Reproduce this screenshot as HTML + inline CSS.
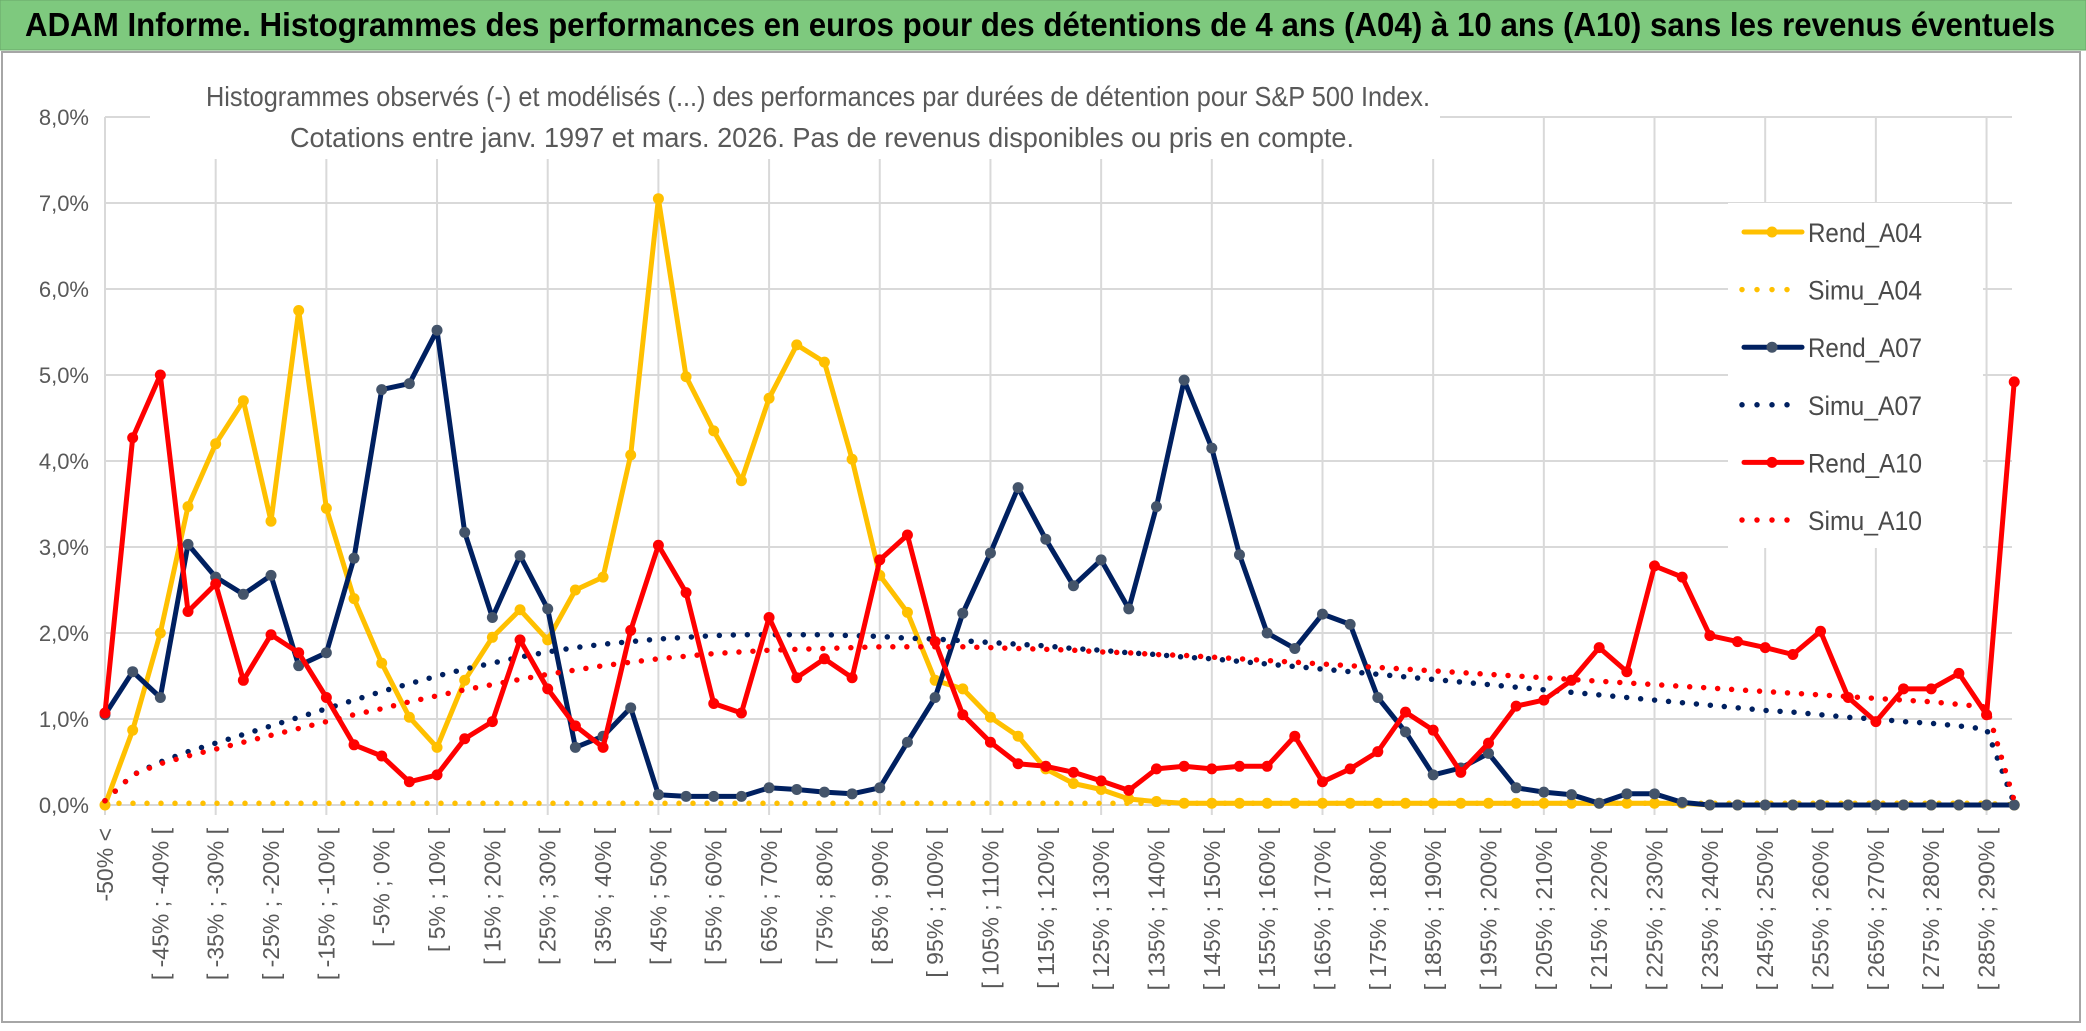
<!DOCTYPE html>
<html><head><meta charset="utf-8"><style>
html,body{margin:0;padding:0;background:#fff;}
svg{display:block;font-family:"Liberation Sans",sans-serif;}
</style></head><body>
<svg id="chart" width="2086" height="1031" viewBox="0 0 2086 1031" xmlns="http://www.w3.org/2000/svg">
<rect x="0" y="0" width="2086" height="1031" fill="#fff"/>
<rect x="2" y="52" width="2078" height="970" fill="#fff" stroke="#a6a6a6" stroke-width="2"/>
<rect x="0" y="0" width="2086" height="50" fill="#7ec97e" stroke="#6aa86a" stroke-width="1"/>
<text x="25" y="36" font-size="33" font-weight="bold" fill="#000" textLength="2030" lengthAdjust="spacingAndGlyphs">ADAM Informe. Histogrammes des performances en euros pour des détentions de 4 ans (A04) à 10 ans (A10) sans les revenus éventuels</text>
<g id="grid"></g>
<rect x="150" y="55" width="1290" height="104" fill="#fff"/>
<text x="206" y="106" font-size="28" fill="#595959" textLength="1224" lengthAdjust="spacingAndGlyphs">Histogrammes observés (-) et modélisés (...) des performances par durées de détention pour S&amp;P 500 Index.</text>
<text x="290" y="147" font-size="28" fill="#595959" textLength="1064" lengthAdjust="spacingAndGlyphs">Cotations entre janv. 1997 et mars. 2026. Pas de revenus disponibles ou pris en compte.</text>
<g id="yaxis"></g>
<g id="xaxis"></g>
<g id="legendbg"></g>
<g id="series"></g>
<g id="legend"></g>
</svg>
<script>
const yTicks = [0,1,2,3,4,5,6,7,8];
const yTickLabels = ["0,0%","1,0%","2,0%","3,0%","4,0%","5,0%","6,0%","7,0%","8,0%"];
const categories = ["-50% <"];
for (let k = 1; k < 70; k++) categories.push("[ " + (-55 + 5*k) + "% ; " + (-50 + 5*k) + "% [");
const rendA04 = [0,0.87,2.0,3.47,4.2,4.7,3.3,5.75,3.45,2.4,1.65,1.02,0.67,1.45,1.95,2.27,1.92,2.5,2.65,4.07,7.05,4.98,4.35,3.77,4.73,5.35,5.15,4.02,2.67,2.24,1.45,1.35,1.02,0.8,0.42,0.25,0.18,0.07,0.04,0.02,0.02,0.02,0.02,0.02,0.02,0.02,0.02,0.02,0.02,0.02,0.02,0.02,0.02,0.02,0.02,0.02,0.02,0.02,0,0,0,0,0,0,0,0,0,0,0,0];
const simuA04 = [0.02,0.02,0.02,0.02,0.02,0.02,0.02,0.02,0.02,0.02,0.02,0.02,0.02,0.02,0.02,0.02,0.02,0.02,0.02,0.02,0.02,0.02,0.02,0.02,0.02,0.02,0.02,0.02,0.02,0.02,0.02,0.02,0.02,0.02,0.02,0.02,0.02,0.02,0.02,0.02,0.02,0.02,0.02,0.02,0.02,0.02,0.02,0.02,0.02,0.02,0.02,0.02,0.02,0.02,0.02,0.02,0.02,0.02,0.02,0.02,0.02,0.02,0.02,0.02,0.02,0.02,0.02,0.02,0.02,0];
const rendA07 = [1.05,1.55,1.25,3.03,2.65,2.45,2.67,1.62,1.77,2.87,4.83,4.9,5.52,3.17,2.18,2.9,2.28,0.67,0.8,1.13,0.12,0.1,0.1,0.1,0.2,0.18,0.15,0.13,0.2,0.73,1.25,2.23,2.93,3.69,3.09,2.55,2.85,2.28,3.47,4.94,4.15,2.91,2.0,1.82,2.22,2.1,1.25,0.85,0.35,0.43,0.6,0.2,0.15,0.12,0.02,0.13,0.13,0.03,0,0,0,0,0,0,0,0,0,0,0,0];
const simuA07 = [0.05,0.35,0.5,0.62,0.72,0.82,0.92,1.02,1.12,1.22,1.32,1.41,1.5,1.58,1.65,1.72,1.78,1.83,1.87,1.9,1.93,1.95,1.97,1.98,1.98,1.98,1.98,1.97,1.96,1.94,1.93,1.91,1.89,1.87,1.85,1.82,1.8,1.77,1.75,1.72,1.7,1.67,1.64,1.61,1.58,1.55,1.52,1.49,1.46,1.43,1.4,1.37,1.34,1.31,1.28,1.25,1.22,1.19,1.16,1.13,1.1,1.08,1.05,1.02,1.0,0.97,0.95,0.92,0.88,0.02];
const rendA10 = [1.07,4.27,5.0,2.25,2.57,1.45,1.98,1.77,1.25,0.7,0.57,0.27,0.35,0.77,0.97,1.92,1.35,0.92,0.67,2.03,3.02,2.47,1.18,1.07,2.18,1.48,1.7,1.48,2.85,3.14,1.9,1.05,0.73,0.48,0.45,0.38,0.28,0.17,0.42,0.45,0.42,0.45,0.45,0.8,0.27,0.42,0.62,1.08,0.87,0.38,0.72,1.15,1.22,1.45,1.83,1.55,2.78,2.65,1.97,1.9,1.83,1.75,2.02,1.25,0.97,1.35,1.35,1.53,1.05,4.92];
const simuA10 = [0.05,0.35,0.48,0.57,0.65,0.73,0.81,0.89,0.97,1.05,1.12,1.2,1.27,1.34,1.4,1.46,1.52,1.57,1.62,1.66,1.7,1.73,1.76,1.78,1.8,1.81,1.82,1.83,1.84,1.84,1.84,1.84,1.83,1.82,1.81,1.8,1.78,1.77,1.75,1.74,1.72,1.7,1.68,1.66,1.64,1.62,1.6,1.58,1.56,1.54,1.52,1.5,1.48,1.46,1.44,1.42,1.4,1.38,1.36,1.34,1.32,1.3,1.28,1.26,1.24,1.22,1.2,1.17,1.14,0.05];

const NS = "http://www.w3.org/2000/svg";
const X0 = 105, STEP = 27.67, Y0 = 805, YPER = 86, XR = 2012;
function xs(i){ return X0 + i*STEP; }
function ys(v){ return Y0 - v*YPER; }
function mk(tag, attrs, parent){ const e = document.createElementNS(NS, tag); for (const k in attrs) e.setAttribute(k, attrs[k]); parent.appendChild(e); return e; }

const grid = document.getElementById('grid');
yTicks.forEach(function(t){
  const l = mk('line', {x1:X0, x2:XR, y1:ys(t), y2:ys(t), stroke:'#d9d9d9', 'stroke-width':2}, grid);
  
  
});
for (let i = 0; i < categories.length; i += 4) {
  const l = mk('line', {x1:xs(i), x2:xs(i), y1:ys(8), y2:Y0+10, stroke:'#d9d9d9', 'stroke-width':2}, grid);
  
  
}
const yaxis = document.getElementById('yaxis');
yTicks.forEach(function(t, k){
  const tx = mk('text', {x:89, y:ys(t)+8, 'font-size':22, fill:'#595959', 'text-anchor':'end'}, yaxis);
  tx.textContent = yTickLabels[k];
  
  
});
const xaxis = document.getElementById('xaxis');
categories.forEach(function(c, i){
  if (i % 2) return;
  const x = xs(i) + 8, y = 828;
  const tx = mk('text', {x:x, y:y, 'font-size':23, fill:'#595959', 'text-anchor':'end', transform:'rotate(-90 '+x+' '+y+')'}, xaxis);
  tx.textContent = c;
  
  
});

const lbg = mk('rect', {x:1728, y:203, width:255, height:345, fill:'#fff'}, document.getElementById('legendbg'));



const seriesG = document.getElementById('series');
function pts(arr){ return arr.map(function(v,i){ return xs(i).toFixed(1)+','+ys(v).toFixed(1); }).join(' '); }
function solid(arr, color, mcolor, name){
  const g = mk('g', {}, seriesG);
  
  
  const p = mk('polyline', {points:pts(arr), fill:'none', stroke:color, 'stroke-width':5, 'stroke-linejoin':'round', 'stroke-linecap':'round'}, g);
  
  
  arr.forEach(function(v,i){
    const c = mk('circle', {cx:xs(i), cy:ys(v), r:5.5, fill:mcolor}, g);
    
    
  });
}
function dotted(arr, color, name){
  const p = mk('polyline', {points:pts(arr), fill:'none', stroke:color, 'stroke-width':5.5, 'stroke-linecap':'round', 'stroke-dasharray':'0 14'}, seriesG);
  
  
}
solid(rendA04, '#ffc000', '#ffc000', 'rend-a04');
dotted(simuA04, '#ffc000', 'simu-a04');
solid(rendA07, '#002060', '#44546a', 'rend-a07');
dotted(simuA07, '#002060', 'simu-a07');
solid(rendA10, '#ff0000', '#ff0000', 'rend-a10');
dotted(simuA10, '#ff0000', 'simu-a10');

const legend = document.getElementById('legend');
const legNames = ["Rend_A04","Simu_A04","Rend_A07","Simu_A07","Rend_A10","Simu_A10"];
const legColors = ['#ffc000','#ffc000','#002060','#002060','#ff0000','#ff0000'];
const legMarker = ['#ffc000',null,'#44546a',null,'#ff0000',null];
legNames.forEach(function(n, k){
  const y = 232 + k*57.6;
  const g = mk('g', {}, legend);
  
  
  if (legMarker[k]) {
    mk('line', {x1:1744, x2:1802, y1:y, y2:y, stroke:legColors[k], 'stroke-width':5, 'stroke-linecap':'round'}, g);
    mk('circle', {cx:1772, cy:y, r:5.5, fill:legMarker[k]}, g);
  } else {
    mk('line', {x1:1742, x2:1800, y1:y, y2:y, stroke:legColors[k], 'stroke-width':5.5, 'stroke-linecap':'round', 'stroke-dasharray':'0 15'}, g);
  }
  const t = mk('text', {x:1808, y:y+10, 'font-size':27, fill:'#4a4a4a', textLength:114, lengthAdjust:'spacingAndGlyphs'}, g);
  t.textContent = n;
});
</script>
</body></html>
